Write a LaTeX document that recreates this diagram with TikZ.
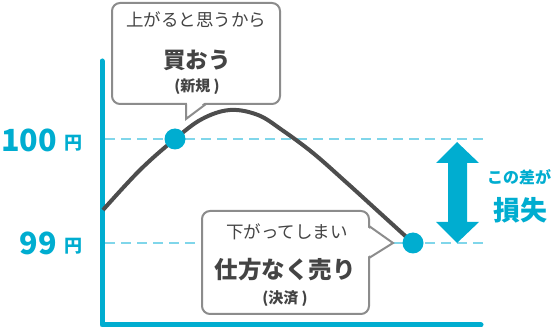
\documentclass[tikz,border=0pt]{standalone}
\usepackage{fontspec}
\setmainfont{Noto Sans CJK JP}
\definecolor{cy}{HTML}{00ADD0}
\definecolor{lcy}{HTML}{80D6EA}
\definecolor{crv}{HTML}{4D4D4D}
\definecolor{bord}{HTML}{8C8C8C}
\definecolor{txt}{HTML}{444444}
\tikzset{
  guide/.style={lcy, line width=2.4pt, dash pattern=on 10pt off 6pt},
  axis/.style={cy, line width=5pt, line cap=round, line join=round},
  curve/.style={crv, line width=4pt},
  dotc/.style={circle, fill=cy, inner sep=0pt, minimum size=21pt},
  balloon/.style={draw=bord, line width=2pt, fill=white, rounded corners=8pt},
  tail/.style={draw=bord, line width=2pt, line join=miter},
  t/.style={inner sep=0pt, text=txt},
  cyt/.style={inner sep=0pt, text=cy, font=\bfseries},
}
\begin{document}
\begin{tikzpicture}[x=1pt,y=-1pt]
\useasboundingbox (0,0) rectangle (560,331);
% guides
\coordinate (g1s) at (105,139); \coordinate (g1e) at (483,139);
\coordinate (g2s) at (105,243); \coordinate (g2e) at (483,243);
\draw[guide] (g1s) -- (g1e);
\draw[guide] (g2s) -- (g2e);
% axes
\coordinate (ytop) at (102,61); \coordinate (orig) at (102,325); \coordinate (xend) at (481,325);
\draw[axis] (ytop) -- (orig) -- (xend);
% curve
\draw[curve] plot[smooth, tension=0.6] coordinates {(103,210) (140,170) (175,139) (202,119) (230,110) (258,115) (282,130) (313,153) (347,183) (380,213) (413,243)};
\node[dotc] (buy) at (175,139) {};
\node[dotc] (sell) at (413,243) {};
% balloon 1
\node[balloon, minimum width=168pt, minimum height=101pt] (b1) at (196,53.5) {};
\fill[white] (187,102) -- (187,118) -- (205,102) -- cycle;
\draw[tail] (186,104) -- (186,119) -- (206,104);
\node[t, font=\fontsize{17.5}{17.5}\selectfont] (b1a) at (196,20) {上がると思うから};
\node[t, font=\fontsize{22.5}{22.5}\selectfont\bfseries] (b1b) at (197,60) {買おう};
\node[t, font=\fontsize{15}{15}\selectfont\bfseries] (b1c) at (197,87) {(新規 )};
% balloon 2
\node[balloon, minimum width=167pt, minimum height=103pt] (b2) at (285.5,262.5) {};
\fill[white] (367,227) -- (392,243) -- (367,257) -- cycle;
\draw[tail] (369,226) -- (393,243) -- (369,258);
\node[t, font=\fontsize{17.5}{17.5}\selectfont] (b2a) at (287,232) {下がってしまい};
\node[t, font=\fontsize{23.5}{23.5}\selectfont\bfseries] (b2b) at (285,270) {仕方なく売り};
\node[t, font=\fontsize{15}{15}\selectfont\bfseries] (b2c) at (285,299) {(決済 )};
% arrow
\fill[cy] (457,142) -- (479,163) -- (467,163) -- (467,222) -- (479,222) -- (457,243)
  -- (436,222) -- (448,222) -- (448,163) -- (436,163) -- cycle;
\node[cyt, font=\fontsize{16}{16}\selectfont\bfseries] (d1) at (519,177) {この差が};
\node[cyt, font=\fontsize{27}{27}\selectfont\bfseries] (d2) at (520,210) {損失};
% y labels
\node[cyt, anchor=base east, font=\fontsize{30.5}{30.5}\selectfont\bfseries] (p100) at (57,152) {100};
\node[cyt, anchor=base west, font=\fontsize{18}{18}\selectfont\bfseries] (y100) at (64,150) {円};
\node[cyt, anchor=base east, font=\fontsize{30.5}{30.5}\selectfont\bfseries] (p99) at (57,255) {99};
\node[cyt, anchor=base west, font=\fontsize{18}{18}\selectfont\bfseries] (y99) at (64,253) {円};
\end{tikzpicture}
\end{document}
